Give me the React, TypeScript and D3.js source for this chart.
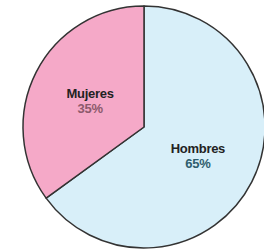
import React from "react";
import * as d3 from "d3";

const categories = ["Hombres", "Mujeres"];
const values = [65, 35];
const colors = ["#d8eff9", "#f5a9c8"];
const pctColors = ["#2f5e6e", "#8c5a6c"];

export default function App() {
  const width = 264;
  const height = 251;
  const cx = 144;
  const cy = 127;
  const radius = 121;

  const pie = d3
    .pie<number>()
    .sort(null)
    .value((d) => d);
  const arcs = pie(values);

  const arc = d3.arc<d3.PieArcDatum<number>>().innerRadius(0).outerRadius(radius);
  const labelArc = d3
    .arc<d3.PieArcDatum<number>>()
    .innerRadius(radius * 0.5)
    .outerRadius(radius * 0.5);

  return (
    <svg
      width={width}
      height={height}
      style={{ position: "absolute", left: 0, top: 0, background: "#fff" }}
    >
      <g transform={`translate(${cx},${cy})`}>
        {arcs.map((a, i) => (
          <path
            key={categories[i]}
            d={arc(a) || ""}
            fill={colors[i]}
            stroke="#333"
            strokeWidth={1.5}
            strokeLinejoin="round"
          />
        ))}
        {arcs.map((a, i) => {
          const [x, y] = labelArc.centroid(a);
          return (
            <text
              key={"l" + categories[i]}
              x={x}
              y={y}
              textAnchor="middle"
              fontFamily="Liberation Sans, Arial, sans-serif"
              fontWeight="bold"
              fontSize={13}
              letterSpacing={-0.3}
            >
              <tspan x={x} dy="-0.1em" fill="#222">
                {categories[i]}
              </tspan>
              <tspan x={x} dy="1.15em" fill={pctColors[i]}>
                {values[i]}%
              </tspan>
            </text>
          );
        })}
      </g>
    </svg>
  );
}
